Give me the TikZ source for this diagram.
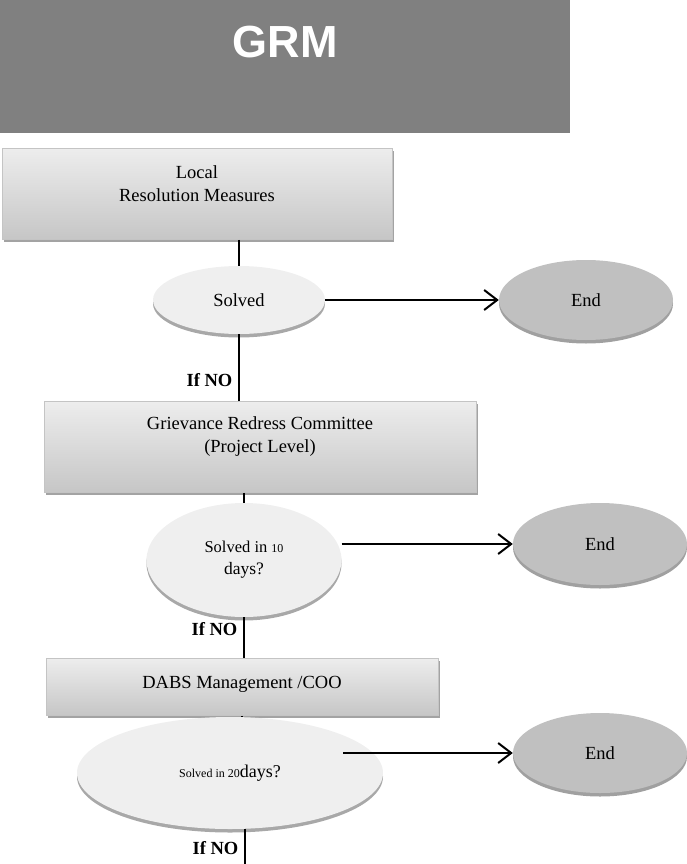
\documentclass[tikz,border=0pt]{standalone}
\usepackage{fontspec}
\setmainfont{Liberation Serif}
\newfontfamily\headfont{Liberation Sans}
\usetikzlibrary{shapes.geometric,shadows,arrows.meta}

\definecolor{headgray}{HTML}{808080}
\definecolor{boxtop}{HTML}{EDEDED}
\definecolor{boxbot}{HTML}{C6C6C6}
\definecolor{boxline}{HTML}{C4C4C4}
\definecolor{boxshade}{HTML}{A3A3A3}
\definecolor{asklight}{HTML}{EFEFEF}
\definecolor{askshade}{HTML}{A8A8A8}
\definecolor{endgray}{HTML}{C0C0C0}
\definecolor{endshade}{HTML}{A0A0A0}

\tikzset{
  headbar/.style={rectangle, fill=headgray, inner sep=0pt, anchor=north, text=white,
    font=\headfont\bfseries\fontsize{45}{50}\selectfont},
  stagebox/.style={rectangle, draw=boxline, line width=0.8pt, top color=boxtop, bottom color=boxbot,
    inner sep=0pt, anchor=north, align=center, font=\fontsize{18.5}{23}\selectfont,
    drop shadow={shadow xshift=2pt, shadow yshift=-3pt, fill=boxshade, opacity=1}},
  askoval/.style={ellipse, fill=asklight, inner sep=0pt, align=center,
    drop shadow={shadow xshift=0pt, shadow yshift=-3.5pt, fill=askshade, opacity=1}},
  endoval/.style={ellipse, fill=endgray, inner sep=0pt, font=\fontsize{18.5}{22}\selectfont,
    drop shadow={shadow xshift=0pt, shadow yshift=-3.5pt, fill=endshade, opacity=1}},
  link/.style={line width=1.4pt},
  yesarrow/.style={line width=2pt, -{Straight Barb[length=13pt,width=20pt]}},
  ifno/.style={font=\bfseries\fontsize{18.5}{22}\selectfont, anchor=east, inner sep=0pt, xshift=-6pt}
}

\begin{document}
\begin{tikzpicture}[x=1pt, y=-1pt, line cap=butt]

  %% ==== header ====
  \node[headbar, minimum width=570pt, text height=57pt, text depth=76pt] (head) at (285,0) {GRM};

  %% ==== stages (boxes) ====
  \node[stagebox, minimum width=390pt, text height=53pt, text depth=38pt] (local) at (197,148)
    {Local\\Resolution Measures};
  \node[stagebox, minimum width=432pt, text height=51pt, text depth=40pt] (grc) at (260,401)
    {Grievance Redress Committee\\(Project Level)};
  \node[stagebox, minimum width=392pt, text height=30pt, text depth=27pt] (dabs) at (242,658)
    {DABS Management /COO};

  %% ==== questions ====
  \node[askoval, minimum width=172pt, minimum height=68pt, font=\fontsize{18.5}{22}\selectfont] (ask1) at (239,300) {Solved};
  \node[askoval, minimum width=195pt, minimum height=114pt, font=\fontsize{16.5}{22}\selectfont] (ask2) at (244,560)
    {Solved in {\fontsize{12}{14}\selectfont 10}\\{\fontsize{17.5}{22}\selectfont days?}};
  \node[askoval, minimum width=306pt, minimum height=112pt, font=\fontsize{18}{22}\selectfont] (ask3) at (230,773)
    {{\fontsize{12}{14}\selectfont Solved in 20}days?};

  %% ==== ends ====
  \node[endoval, minimum width=174pt, minimum height=80pt] (end1) at (586,300) {End};
  \node[endoval, minimum width=174pt, minimum height=82pt] (end2) at (600,544) {End};
  \node[endoval, minimum width=174pt, minimum height=80pt] (end3) at (600,753) {End};

  %% ==== connectors ====
  \coordinate (exit) at (245,864);
  \draw[link] (local.south -| ask1.north) -- (ask1.north);
  \draw[link] (ask1.south) -- node[ifno, pos=0.68] (no1) {If NO} (ask1.south |- grc.north);
  \draw[link] (grc.south -| ask2.north) -- (ask2.north);
  \draw[link] (ask2.south) -- node[ifno, pos=0.3] (no2) {If NO} (ask2.south |- dabs.north);
  \draw[link] (dabs.south) -- (dabs.south |- ask3.north);
  \draw[link] (ask3.south -| exit) -- node[ifno, pos=0.55] (no3) {If NO} (exit);

  \draw[yesarrow] (ask1.east) -- (end1.west);
  \draw[yesarrow] (ask2.east |- end2.west) -- (end2.west);
  \draw[yesarrow] ([xshift=-40pt]ask3.east |- end3.west) -- (end3.west);

  % fix the canvas to the reference size
  \pgfresetboundingbox
  \path[use as bounding box] (0,0) rectangle (686,864);
\end{tikzpicture}
\end{document}
